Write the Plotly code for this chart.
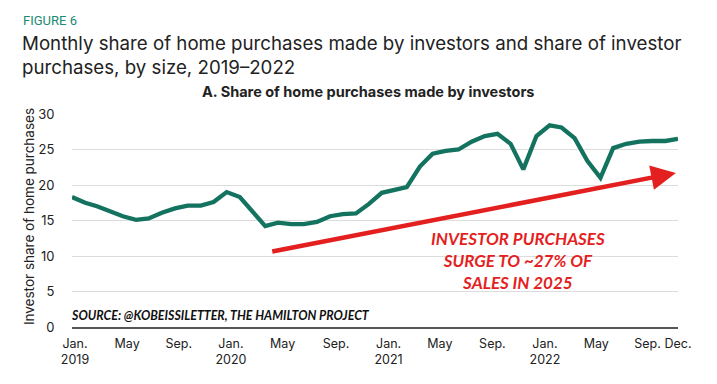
import plotly.graph_objects as go
import pandas as pd

months = pd.date_range("2019-01-01", "2022-12-01", freq="MS")
investor_share = [
    18.3, 17.5, 17.0, 16.3, 15.6, 15.1, 15.3, 16.1, 16.7, 17.1, 17.1, 17.6,
    19.0, 18.3, 16.3, 14.2, 14.7, 14.5, 14.5, 14.8, 15.6, 15.9, 16.0, 17.3,
    18.9, 19.4, 19.7, 22.6, 24.4, 24.8, 25.0, 26.1, 26.9, 27.2, 25.8, 22.2,
    26.9, 28.4, 28.1, 26.6, 23.4, 21.0, 25.2, 25.8, 26.1, 26.2, 26.2, 26.5,
]
# tick label positions as they sit under the reference axis
tick_dates = ["2019-01-08", "2019-05-11", "2019-09-10", "2020-01-11", "2020-05-12",
              "2020-09-15", "2021-01-17", "2021-05-18", "2021-09-19", "2022-01-21",
              "2022-05-22", "2022-09-20", "2022-12-01"]
tick_labels = ["Jan.<br>2019", "May", "Sep.", "Jan.<br>2020", "May", "Sep.",
               "Jan.<br>2021", "May", "Sep.", "Jan.<br>2022", "May", "Sep.", "Dec."]
y_ticks = [0, 5, 10, 15, 20, 25, 30]

# the page body has an 8px margin; lay out in window pixels and offset
OFF = 8
W, H = 717 - OFF, 384 - OFF
L, R, T, B = 72 - OFF, 678 - OFF, 114.3 - OFF, 327.5 - OFF

def px(xp):
    return (xp - OFF - L) / (R - L)

def py(yp):
    return (B - (yp - OFF)) / (B - T)

TEAL = "#13735f"
RED = "#e41f1f"
TXT = "#222222"

fig = go.Figure()
fig.add_trace(go.Scatter(
    x=months, y=investor_share, mode="lines",
    line=dict(color=TEAL, width=4.3), hoverinfo="skip", showlegend=False,
))

fig.update_layout(
    width=W, height=H,
    margin=dict(l=L, r=W - R, t=T, b=H - B, autoexpand=False),
    paper_bgcolor="white", plot_bgcolor="white",
    font=dict(family="Inter, Open Sans, sans-serif", color=TXT),
)
fig.update_xaxes(
    range=[months[0], months[-1]], tickvals=tick_dates, ticktext=tick_labels,
    showgrid=False, showline=True, linecolor="#555555", linewidth=1.5,
    ticks="", tickfont=dict(size=12.5, color=TXT), automargin=False,
    ticklabelstandoff=4, tickangle=0,
)
fig.update_yaxes(
    range=[0, 30], tickvals=y_ticks, showgrid=True, gridcolor="#dcdcdc",
    gridwidth=1.2, zeroline=False, showline=False,
    ticks="outside", ticklen=14, tickcolor="rgba(0,0,0,0)",
    tickfont=dict(size=13, color=TXT), automargin=False,
)

anns = [
    dict(text="FIGURE 6", x=px(21), y=py(21), xanchor="left", yanchor="middle",
         font=dict(size=13, color="#1b8a74", family="Roboto, sans-serif")),
    dict(text="Monthly share of home purchases made by investors and share of investor",
         x=px(20), y=py(44), xanchor="left", yanchor="middle",
         font=dict(size=18.7, color=TXT)),
    dict(text="purchases, by size, 2019\u20132022",
         x=px(20), y=py(67.5), xanchor="left", yanchor="middle",
         font=dict(size=18.7, color=TXT)),
    dict(text="<b>A. Share of home purchases made by investors</b>",
         x=px(367.5), y=py(92), xanchor="center", yanchor="middle",
         font=dict(size=14.5, color=TXT)),
    dict(text="Investor share of home purchases", x=px(29), y=py(217.5),
         xanchor="center", yanchor="middle", textangle=-90,
         font=dict(size=13.5, color=TXT)),
    dict(text="<b><i>SOURCE: @KOBEISSILETTER, THE HAMILTON PROJECT</i></b>",
         x=px(69), y=py(316), xanchor="left", yanchor="middle",
         font=dict(size=12.4, color="#111111", family="Lato, Open Sans, sans-serif")),
    dict(text="<b><i>INVESTOR PURCHASES<br>SURGE TO ~27% OF<br>SALES IN 2025</i></b>",
         x=px(518), y=py(261), xanchor="center", yanchor="middle", align="center",
         font=dict(size=17, color=RED, family="Lato, Open Sans, sans-serif")),
]
for a in anns:
    a.update(xref="paper", yref="paper", showarrow=False)
fig.update_layout(annotations=anns)

fig.add_annotation(
    x="2022-11-26", y=21.7, ax="2020-04-14", ay=10.6,
    xref="x", yref="y", axref="x", ayref="y",
    showarrow=True, arrowhead=2, arrowsize=1.1, arrowwidth=4.5,
    arrowcolor=RED, text="", standoff=0,
)

fig.write_html("out.html")
